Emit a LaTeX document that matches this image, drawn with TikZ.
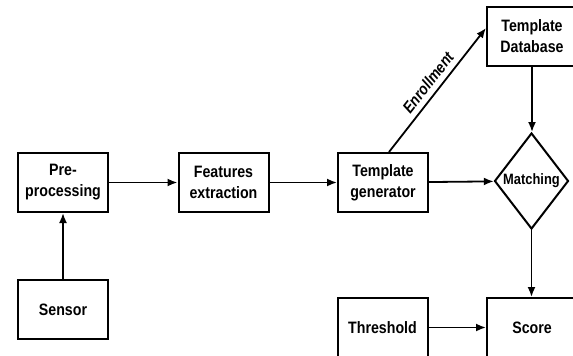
\documentclass[tikz,border=0pt]{standalone}
\usepackage{fontspec}
\setmainfont{Liberation Sans}[FakeStretch=0.86]
\usepackage{tikz}
\usetikzlibrary{shapes.geometric,arrows.meta}

\tikzset{
  blk/.style={draw, line width=2pt, minimum width=90pt, minimum height=59pt,
              inner sep=0pt, align=center, font=\fontsize{16.5}{21}\selectfont\bfseries},
  dec/.style={draw, diamond, line width=2pt, minimum width=74pt, minimum height=96pt,
              aspect=0.77, inner sep=0pt, font=\fontsize{15}{21}\selectfont\bfseries},
  flow/.style={line width=1.8pt, -{Latex[length=10pt,width=8pt]}}
}

\begin{document}
\begin{tikzpicture}[x=1pt,y=-1pt]
             \useasboundingbox (0,0) rectangle (573,356);
             \clip (0,0) rectangle (573,356);
             \node[blk] (pre)  at (63,182.5)    {Pre-\\processing};
             \node[blk] (feat) at (223.5,182.5) {Features\\extraction};
             \node[blk] (gen)  at (383,182.5)   {Template\\generator};
             \node[dec] (match) at (531.5,181)  {Matching};
             \node[blk] (db)   at (532,36.5)    {Template\\Database};
             \node[blk] (sens) at (63,309.5)    {Sensor};
             \node[blk] (thr)  at (382.5,327.5) {Threshold};
             \node[blk] (score) at (532,327.5)  {Score};
             \draw[flow] (sens.north) -- (pre.south);
             \draw[flow] (pre) -- (feat);
             \draw[flow] (feat) -- (gen);
             \draw[flow] (gen) -- (match);
             \draw[flow] ([xshift=6pt]gen.north) -- node[sloped, above=2pt,
                   font=\fontsize{16}{18}\selectfont\bfseries\itshape] {Enrollment} ([yshift=8.5pt]db.west);
             \draw[flow] (db.south) -- (db.south |- match.north);
             \draw[flow] (match.south) -- (match.south |- score.north);
             \draw[flow] (thr) -- (score);
         \end{tikzpicture}
\end{document}
